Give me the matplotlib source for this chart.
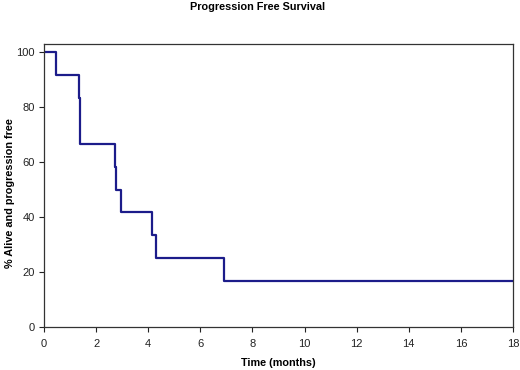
import matplotlib
matplotlib.use("Agg")
import matplotlib.pyplot as plt

plt.rcParams['font.family'] = ['Liberation Sans', 'DejaVu Sans']

# Kaplan-Meier step data (time in months, % alive and progression free)
times = [0, 0.45, 1.34, 1.40, 2.74, 2.78, 2.95, 4.16, 4.31, 6.92, 17.95]
surv = [100, 91.7, 83.3, 66.7, 58.3, 50.0, 41.7, 33.3, 25.0, 16.7, 16.7]
xticks = [0, 2, 4, 6, 8, 10, 12, 14, 16, 18]
yticks = [0, 20, 40, 60, 80, 100]

fig = plt.figure(figsize=(5.2, 3.7), dpi=100)
ax = fig.add_axes([0.0846, 0.1162, 0.9019, 0.7662])
ax.step(times, surv, where='post', color='#1c1c8a', lw=1.6)

ax.set_xlim(0, 18)
ax.set_ylim(0, 103.1)
ax.set_xticks(xticks)
ax.set_yticks(yticks)
ax.tick_params(direction='out', length=3.5, width=0.8, labelsize=8, colors='#222222')
ax.tick_params(axis='x', pad=5)
ax.tick_params(axis='y', pad=3)
for s in ax.spines.values():
    s.set_color('#333333')
    s.set_linewidth(0.9)

fig.text(0.5356, 0.019, 'Time (months)', ha='center', va='center',
         fontsize=7.8, fontweight='bold')
fig.text(0.019, 0.478, '% Alive and progression free', ha='center', va='center',
         rotation=90, fontsize=7.8, fontweight='bold')
fig.text(0.496, 0.980, 'Progression Free Survival', ha='center', va='center',
         fontsize=7.8, fontweight='bold')

fig.savefig('out.png', dpi=100)
